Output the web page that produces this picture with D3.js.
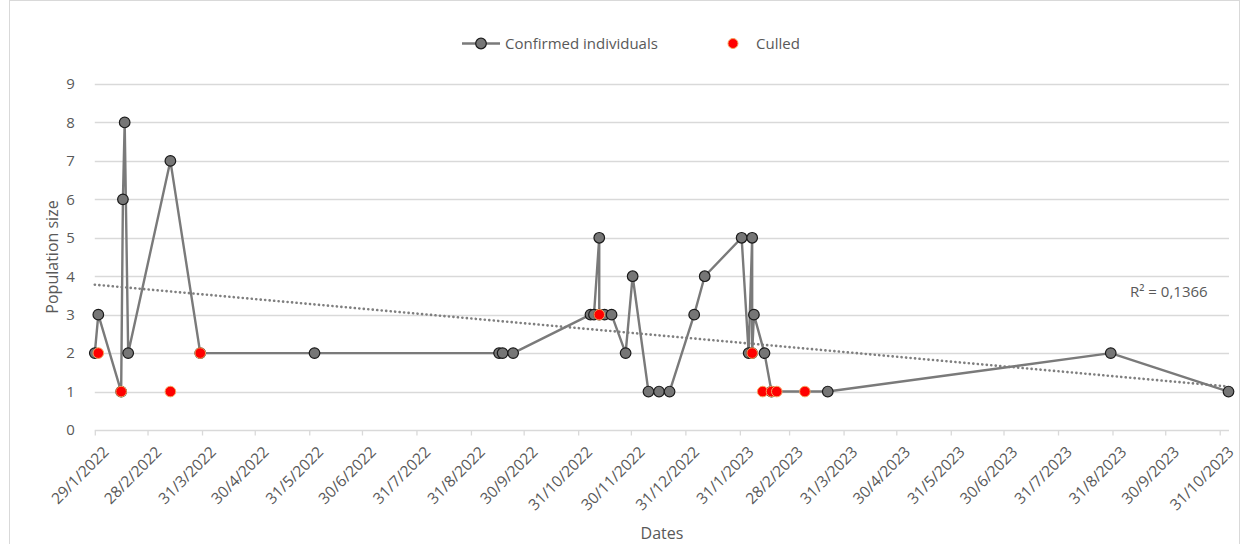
<!DOCTYPE html>
<html>
<head>
<meta charset="utf-8">
<script src="https://cdn.jsdelivr.net/npm/d3@7"></script>
<style>
  html, body { margin: 0; padding: 0; background: #ffffff; }
  svg { display: block; }
  text { font-family: "Open Sans", "Liberation Sans", sans-serif; fill: #595959; }
</style>
</head>
<body>
<svg id="chart" width="1246" height="544"></svg>
<script>
// ---- data ----
const confirmedDates = [
  "29/1/2022","31/1/2022","13/2/2022","14/2/2022","15/2/2022","17/2/2022","13/3/2022","30/3/2022",
  "3/6/2022","16/9/2022","18/9/2022","24/9/2022","7/11/2022","9/11/2022","12/11/2022","12/11/2022",
  "15/11/2022","19/11/2022","27/11/2022","1/12/2022","10/12/2022","16/12/2022","22/12/2022",
  "5/1/2023","11/1/2023","1/2/2023","5/2/2023","7/2/2023","7/2/2023","8/2/2023","14/2/2023",
  "18/2/2023","22/3/2023","30/8/2023","5/11/2023"
];
const confirmedValues = [
  2,3,1,6,8,2,7,2,
  2,2,2,2,3,3,5,3,
  3,3,2,4,1,1,1,
  3,4,5,2,5,2,3,2,
  1,1,2,1
];
const culledDates = [
  "31/1/2022","13/2/2022","13/3/2022","30/3/2022","12/11/2022","7/2/2023",
  "13/2/2023","18/2/2023","21/2/2023","9/3/2023"
];
const culledValues = [2,1,1,2,3,2,1,1,1,1];
// linear trendline (Excel fit) at its two ends
const trendDates = ["29/1/2022", "5/11/2023"];
const trendValues = [3.78, 1.13];
const tickLabels = [
  "29/1/2022","28/2/2022","31/3/2022","30/4/2022","31/5/2022","30/6/2022","31/7/2022","31/8/2022",
  "30/9/2022","31/10/2022","30/11/2022","31/12/2022","31/1/2023","28/2/2023","31/3/2023","30/4/2023",
  "31/5/2023","30/6/2023","31/7/2023","31/8/2023","30/9/2023","31/10/2023"
];
const yTicks = [0,1,2,3,4,5,6,7,8,9];
const r2Label = "R\u00B2 = 0,1366";
const legendLabels = ["Confirmed individuals", "Culled"];
const xTitle = "Dates";
const yTitle = "Population size";

// ---- drawing ----
const parse = d3.timeParse("%d/%m/%Y");
const svg = d3.select("#chart");

svg.append("rect").attr("x", 9.5).attr("y", 0.5).attr("width", 1230).attr("height", 560)
  .attr("fill", "#fff").attr("stroke", "#d9d9d9").attr("stroke-width", 1);

const x = d3.scaleTime()
  .domain([parse("29/1/2022"), parse("5/11/2023")])
  .range([94.8, 1228.5]);
const y = d3.scaleLinear().domain([0, 9]).range([430, 84]);

// gridlines
svg.append("g").selectAll("line").data(yTicks.slice(1)).join("line")
  .attr("x1", 94.8).attr("x2", 1229)
  .attr("y1", d => Math.round(y(d)) + 0.5).attr("y2", d => Math.round(y(d)) + 0.5)
  .attr("stroke", "#d9d9d9").attr("stroke-width", 1.3);

// y axis labels
const yAxis = d3.axisLeft(y).tickValues(yTicks).tickSize(0).tickPadding(20);
const gy = svg.append("g").attr("transform", "translate(94.8,0)").call(yAxis);
gy.select(".domain").remove();
gy.selectAll("text").style("font-size", "15px").attr("fill", "#595959")
  .style("font-family", "'Open Sans', sans-serif");

// x axis
const tickDates = tickLabels.map(parse);
const xAxis = d3.axisBottom(x).tickValues(tickDates).tickSize(5)
  .tickFormat((d, i) => tickLabels[i]);
const gx = svg.append("g").attr("transform", "translate(0,430.5)").call(xAxis);
gx.select(".domain").attr("stroke", "#d9d9d9").attr("stroke-width", 1.3)
  .attr("d", "M94.8,0H1229");
gx.selectAll(".tick line").attr("stroke", "#d9d9d9").attr("stroke-width", 1.3);
gx.selectAll("text")
  .style("font-size", "15.5px").style("font-family", "'Open Sans', sans-serif")
  .attr("fill", "#595959")
  .attr("text-anchor", "end")
  .attr("dy", "0.35em")
  .attr("transform", "translate(5,13) rotate(-45)");

// axis titles
svg.append("text").attr("x", 662).attr("y", 539).attr("text-anchor", "middle")
  .style("font-size", "16px").text(xTitle);
svg.append("text").attr("transform", "translate(58,257) rotate(-90)")
  .attr("text-anchor", "middle").style("font-size", "16px").text(yTitle);

// trendline
const tData = trendDates.map((d, i) => ({ date: parse(d), v: trendValues[i] }));
const line = d3.line().x(d => x(d.date)).y(d => y(d.v));
svg.append("path").datum(tData).attr("d", line)
  .attr("fill", "none").attr("stroke", "#7f7f7f").attr("stroke-width", 2.6)
  .attr("stroke-dasharray", "0.1 4.4").attr("stroke-linecap", "round");

// line series
const cData = confirmedDates.map((d, i) => ({ date: parse(d), v: confirmedValues[i] }));
const kData = culledDates.map((d, i) => ({ date: parse(d), v: culledValues[i] }));
svg.append("path").datum(cData).attr("d", line)
  .attr("fill", "none").attr("stroke", "#7a7a7a").attr("stroke-width", 2.4)
  .attr("stroke-linejoin", "round");
svg.append("g").selectAll("circle").data(cData).join("circle")
  .attr("cx", d => x(d.date)).attr("cy", d => y(d.v)).attr("r", 5.3)
  .attr("fill", "#767676").attr("stroke", "#1a1a1a").attr("stroke-width", 1.2);

// culled
svg.append("g").selectAll("circle").data(kData).join("circle")
  .attr("cx", d => x(d.date)).attr("cy", d => y(d.v)).attr("r", 5.3)
  .attr("fill", "#ff0000").attr("stroke", "#f4a460").attr("stroke-width", 1);

// R² label
svg.append("text").attr("x", 1130).attr("y", 297).style("font-size", "15px").text(r2Label);

// legend
const lg = svg.append("g");
lg.append("line").attr("x1", 462).attr("x2", 500).attr("y1", 43.5).attr("y2", 43.5)
  .attr("stroke", "#7a7a7a").attr("stroke-width", 2.4);
lg.append("circle").attr("cx", 481).attr("cy", 43.5).attr("r", 5.3)
  .attr("fill", "#767676").attr("stroke", "#1a1a1a").attr("stroke-width", 1.2);
lg.append("text").attr("x", 505).attr("y", 49).style("font-size", "15px").text(legendLabels[0]);
lg.append("circle").attr("cx", 733).attr("cy", 43.5).attr("r", 5)
  .attr("fill", "#ff0000").attr("stroke", "#f4a460").attr("stroke-width", 1);
lg.append("text").attr("x", 756).attr("y", 49).style("font-size", "15px").text(legendLabels[1]);
</script>
</body>
</html>
